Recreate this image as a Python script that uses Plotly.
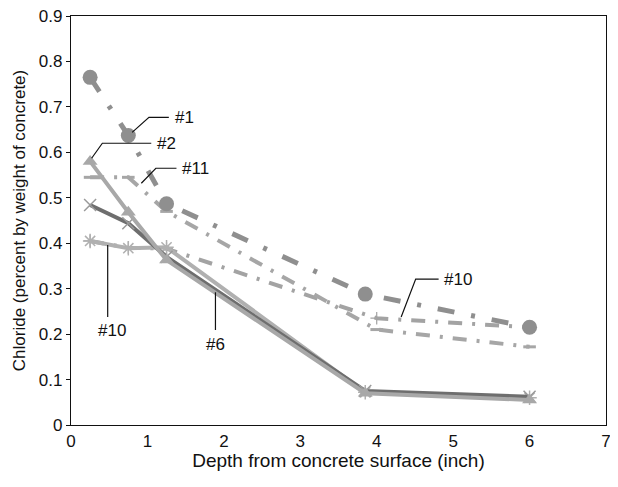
import plotly.graph_objects as go

# ---- data ----
x_main = [0.25, 0.75, 1.25, 3.85, 6.0]
x_dash = [0.25, 0.75, 1.25, 4.0, 6.0]

s1_y = [0.765, 0.637, 0.487, 0.288, 0.215]      # #1 (circles, dash-dot)
s11_y = [0.545, 0.545, 0.47, 0.21, 0.172]       # #11 (dash-dot)
s10u_y = [0.405, 0.39, 0.388, 0.235, 0.215]     # #10 (dashed, upper label)
s2_y = [0.58, 0.468, 0.363, 0.07, 0.055]        # #2 (triangles)
s6_y = [0.484, 0.444, 0.37, 0.075, 0.062]       # #6 (x markers)
s10_y = [0.405, 0.389, 0.391, 0.072, 0.06]      # #10 (asterisks)

x_ticks = [0, 1, 2, 3, 4, 5, 6, 7]
y_ticks = [0, 0.1, 0.2, 0.3, 0.4, 0.5, 0.6, 0.7, 0.8, 0.9]

FONT = "Liberation Sans, Arial, sans-serif"

fig = go.Figure()

# dashed series (under)
fig.add_trace(go.Scatter(x=x_dash, y=s10u_y, mode="lines+markers",
    line=dict(color="#a3a3a3", width=4, dash="14px,10px,3px,10px"),
    marker=dict(symbol="cross-thin-open", size=9, color="#a3a3a3", line=dict(width=1.2, color="#a3a3a3"))))
fig.add_trace(go.Scatter(x=x_dash, y=s11_y, mode="lines+markers",
    line=dict(color="#a6a6a6", width=4, dash="14px,10px,3px,10px"),
    marker=dict(symbol="line-ew-open", size=9, color="#a6a6a6", line=dict(width=3, color="#a6a6a6"))))
fig.add_trace(go.Scatter(x=x_main, y=s1_y, mode="lines+markers",
    line=dict(color="#8f8f8f", width=5, dash="17px,17px,4px,17px"),
    marker=dict(symbol="circle", size=15, color="#8f8f8f")))

# solid series
fig.add_trace(go.Scatter(x=x_main, y=s10_y, mode="lines+markers",
    line=dict(color="#b0b0b0", width=4),
    marker=dict(symbol="asterisk-open", size=12, color="#b0b0b0", line=dict(width=1.5, color="#b0b0b0"))))
fig.add_trace(go.Scatter(x=x_main, y=s6_y, mode="lines+markers",
    line=dict(color="#6e6e6e", width=4),
    marker=dict(symbol="x-thin-open", size=12, color="#9a9a9a", line=dict(width=1.5, color="#9a9a9a"))))
fig.add_trace(go.Scatter(x=x_main, y=s2_y, mode="lines+markers",
    line=dict(color="#a8a8a8", width=4),
    marker=dict(symbol="triangle-up", size=13, color="#a8a8a8")))

# ---- labels with leader lines ----
labels = [
    ("#1", [(0.80, 0.644), (1.02, 0.677), (1.28, 0.677)], 1.33, 0.677, "left"),
    ("#2", [(0.27, 0.587), (0.41, 0.620), (1.05, 0.620)], 1.10, 0.620, "left"),
    ("#11", [(0.92, 0.532), (1.11, 0.565), (1.38, 0.565)], 1.42, 0.565, "left"),
    ("#10", [(4.32, 0.2375), (4.51, 0.321), (4.81, 0.321)], 4.85, 0.321, "left"),
    ("#10", [(0.48, 0.396), (0.48, 0.2375)], 0.54, 0.209, "center"),
    ("#6", [(1.89, 0.292), (1.89, 0.209)], 1.89, 0.178, "center"),
]
for text, pts, tx, ty, anchor in labels:
    path = "M " + " L ".join(f"{px},{py}" for px, py in pts)
    fig.add_shape(type="path", path=path, xref="x", yref="y",
                  line=dict(color="#111111", width=1.2))
    fig.add_annotation(x=tx, y=ty, xref="x", yref="y", text=text, showarrow=False,
                       xanchor=anchor, yanchor="middle",
                       font=dict(family=FONT, size=17, color="#111111"))

# page body has an 8px margin, so the figure is sized to fit inside the window
fig.update_layout(
    width=610, height=471,
    margin=dict(l=63, r=12, t=8, b=54),
    paper_bgcolor="white", plot_bgcolor="white",
    showlegend=False, hovermode=False,
    font=dict(family=FONT, size=17, color="#111111"),
)
fig.update_xaxes(range=[0, 7], tickvals=x_ticks, ticks="", showgrid=False, zeroline=False,
                 automargin=False, ticklabeloverflow="allow",
                 showline=True, linecolor="#111111", linewidth=1.2, mirror=True,
                 title=dict(text="Depth from concrete surface (inch)", standoff=4,
                            font=dict(family=FONT, size=19)),
                 tickfont=dict(family=FONT, size=17))
fig.update_yaxes(range=[0, 0.9], tickvals=y_ticks, ticks="outside", ticklen=4, tickcolor="#111111",
                 showgrid=False, zeroline=False, automargin=False, ticklabeloverflow="allow",
                 showline=True, linecolor="#111111", linewidth=1.2, mirror=True,
                 title=dict(text="Chloride (percent by weight of concrete)", standoff=8,
                            font=dict(family=FONT, size=17)),
                 tickfont=dict(family=FONT, size=17))

fig.write_html("out.html")
